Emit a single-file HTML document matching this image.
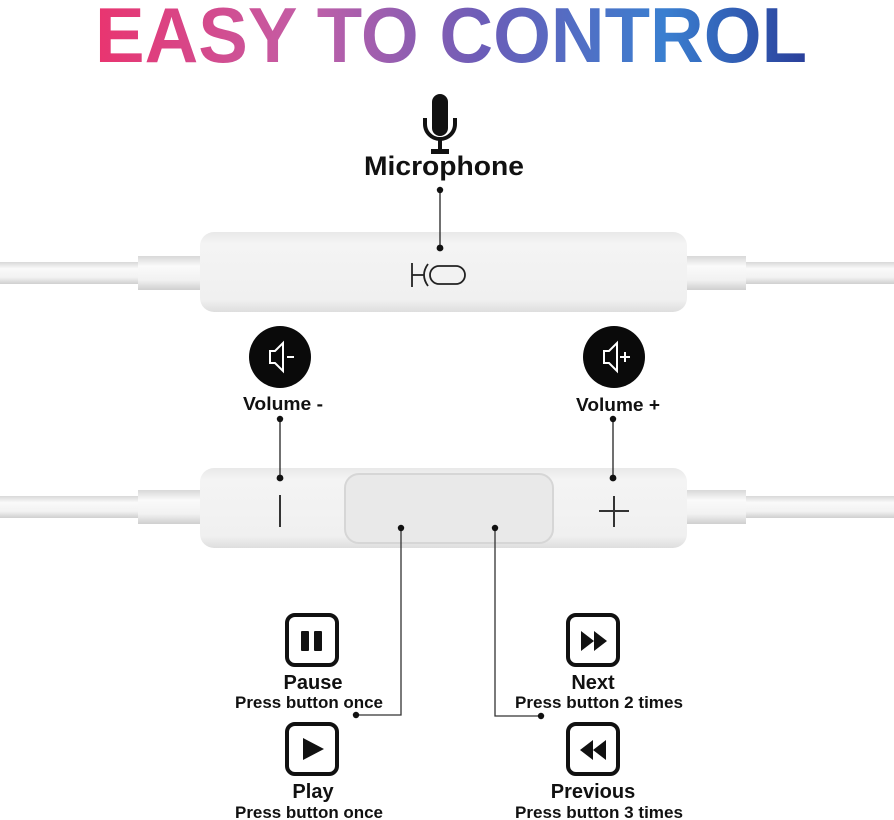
<!DOCTYPE html>
<html><head><meta charset="utf-8"><style>
html,body{margin:0;padding:0;background:#fff;width:894px;height:820px;overflow:hidden}
svg{display:block}
text{font-family:"Liberation Sans",sans-serif;font-weight:bold;fill:#111}
</style></head><body>
<svg width="894" height="820" viewBox="0 0 894 820" xmlns="http://www.w3.org/2000/svg">
<defs>
<linearGradient id="tg" x1="95" y1="0" x2="807" y2="0" gradientUnits="userSpaceOnUse">
<stop offset="0" stop-color="#e9346f"/><stop offset="0.3" stop-color="#c15fa8"/><stop offset="0.55" stop-color="#6a5db8"/><stop offset="0.8" stop-color="#3a7fd0"/><stop offset="1" stop-color="#2a3f9a"/>
</linearGradient>
<linearGradient id="cab" x1="0" y1="0" x2="0" y2="1">
<stop offset="0" stop-color="#d8d8d8"/><stop offset="0.3" stop-color="#fafafa"/><stop offset="0.7" stop-color="#f2f2f2"/><stop offset="1" stop-color="#cfcfcf"/>
</linearGradient>
<linearGradient id="body" x1="0" y1="0" x2="0" y2="1">
<stop offset="0" stop-color="#e8e8e8"/><stop offset="0.15" stop-color="#f4f4f4"/><stop offset="0.85" stop-color="#f0f0f0"/><stop offset="1" stop-color="#dedede"/>
</linearGradient>
</defs>
<text x="95" y="62" font-size="78" textLength="712" lengthAdjust="spacingAndGlyphs" style="fill:url(#tg)">EASY TO CONTROL</text>

<!-- mic icon -->
<g fill="#111">
<rect x="432" y="94" width="16" height="42" rx="8"/>
<path d="M425 118 v6 a15 15 0 0 0 30 0 v-6" fill="none" stroke="#111" stroke-width="4"/>
<rect x="438" y="138" width="4" height="12"/>
<rect x="431" y="149" width="18" height="5"/>
</g>
<text x="444" y="175" font-size="27" text-anchor="middle" textLength="160" lengthAdjust="spacingAndGlyphs">Microphone</text>

<!-- top remote -->
<rect x="0" y="262" width="142" height="22" fill="url(#cab)"/>
<rect x="138" y="256" width="64" height="34" fill="url(#cab)"/>
<rect x="745" y="262" width="149" height="22" fill="url(#cab)"/>
<rect x="686" y="256" width="60" height="34" fill="url(#cab)"/>
<rect x="200" y="232" width="487" height="80" rx="14" fill="url(#body)"/>
<g fill="none" stroke="#222" stroke-width="1.8">
<line x1="412" y1="263" x2="412" y2="287"/><line x1="412" y1="275" x2="424" y2="275"/>
<rect x="430" y="266" width="35" height="18" rx="9"/>
<path d="M428 264 q-8 11 0 22"/>
</g>
<line x1="440" y1="190" x2="440" y2="248" stroke="#222" stroke-width="1.3"/>
<circle cx="440" cy="190" r="3.2" fill="#111"/><circle cx="440" cy="248" r="3.4" fill="#111"/>

<!-- volume icons -->
<circle cx="280" cy="357" r="31" fill="#0a0a0a"/>
<circle cx="614" cy="357" r="31" fill="#0a0a0a"/>
<g fill="none" stroke="#fff" stroke-width="2">
<path d="M270 351 h5 l8 -8 v28 l-8 -8 h-5 z"/>
<line x1="287" y1="357" x2="294" y2="357"/>
<path d="M604 351 h5 l8 -8 v28 l-8 -8 h-5 z"/>
<line x1="620" y1="357" x2="630" y2="357"/><line x1="625" y1="352" x2="625" y2="362"/>
</g>
<text x="283" y="410" font-size="18" text-anchor="middle" textLength="80" lengthAdjust="spacingAndGlyphs">Volume -</text>
<text x="618" y="411" font-size="18" text-anchor="middle" textLength="84" lengthAdjust="spacingAndGlyphs">Volume +</text>

<!-- middle remote -->
<rect x="0" y="496" width="142" height="22" fill="url(#cab)"/>
<rect x="138" y="490" width="64" height="34" fill="url(#cab)"/>
<rect x="745" y="496" width="149" height="22" fill="url(#cab)"/>
<rect x="686" y="490" width="60" height="34" fill="url(#cab)"/>
<rect x="200" y="468" width="487" height="80" rx="14" fill="url(#body)"/>
<rect x="345" y="474" width="208" height="69" rx="14" fill="#e9e9e9" stroke="#d6d6d6" stroke-width="2"/>
<line x1="280" y1="495" x2="280" y2="527" stroke="#333" stroke-width="2"/>
<line x1="599" y1="511" x2="629" y2="511" stroke="#333" stroke-width="2"/>
<line x1="614" y1="496" x2="614" y2="527" stroke="#333" stroke-width="2"/>

<line x1="280" y1="419" x2="280" y2="478" stroke="#222" stroke-width="1.3"/>
<circle cx="280" cy="419" r="3.2" fill="#111"/><circle cx="280" cy="478" r="3.4" fill="#111"/>
<line x1="613" y1="419" x2="613" y2="478" stroke="#222" stroke-width="1.3"/>
<circle cx="613" cy="419" r="3.2" fill="#111"/><circle cx="613" cy="478" r="3.4" fill="#111"/>

<!-- connectors -->
<polyline points="401,528 401,715 356,715" fill="none" stroke="#333" stroke-width="1.3"/>
<polyline points="495,528 495,716 541,716" fill="none" stroke="#333" stroke-width="1.3"/>
<circle cx="401" cy="528" r="3.2" fill="#111"/><circle cx="356" cy="715" r="3.2" fill="#111"/>
<circle cx="495" cy="528" r="3.2" fill="#111"/><circle cx="541" cy="716" r="3.2" fill="#111"/>

<!-- icons -->
<g fill="none" stroke="#111" stroke-width="4">
<rect x="287" y="615" width="50" height="50" rx="8"/>
<rect x="287" y="724" width="50" height="50" rx="8"/>
<rect x="568" y="615" width="50" height="50" rx="8"/>
<rect x="568" y="724" width="50" height="50" rx="8"/>
</g>
<g fill="#111">
<rect x="301" y="631" width="8" height="20" rx="1"/><rect x="314" y="631" width="8" height="20" rx="1"/>
<path d="M303 738 l21 11 l-21 11 z"/>
<path d="M581 631 l13 10 l-13 10 z M594 631 l13 10 l-13 10 z"/>
<path d="M606 740 l-13 10 l13 10 z M593 740 l-13 10 l13 10 z"/>
</g>
<text x="313" y="689" font-size="20" text-anchor="middle">Pause</text>
<text x="309" y="708" font-size="16.5" text-anchor="middle" textLength="148" lengthAdjust="spacingAndGlyphs">Press button once</text>
<text x="313" y="798" font-size="20" text-anchor="middle">Play</text>
<text x="309" y="818" font-size="16.5" text-anchor="middle" textLength="148" lengthAdjust="spacingAndGlyphs">Press button once</text>
<text x="593" y="689" font-size="20" text-anchor="middle">Next</text>
<text x="599" y="708" font-size="16.5" text-anchor="middle" textLength="168" lengthAdjust="spacingAndGlyphs">Press button 2 times</text>
<text x="593" y="798" font-size="20" text-anchor="middle">Previous</text>
<text x="599" y="818" font-size="16.5" text-anchor="middle" textLength="168" lengthAdjust="spacingAndGlyphs">Press button 3 times</text>
</svg>
</body></html>
